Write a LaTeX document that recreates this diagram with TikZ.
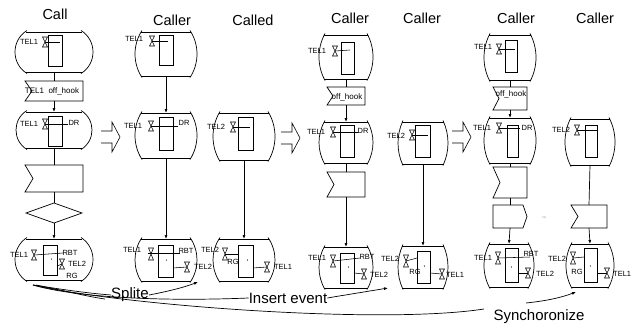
\documentclass[tikz,border=0pt]{standalone}
\usepackage{fontspec}
\setmainfont{Liberation Sans}
\newfontfamily\djv{DejaVu Sans}
\usetikzlibrary{arrows.meta}
\tikzset{
 ln/.style={draw=black, line width=0.7pt},
 thin ln/.style={draw=black, line width=0.55pt},
 arr/.style={ln, -{Latex[length=4pt,width=3pt]}},
 ttl/.style={font=\fontsize{14.5}{16}\selectfont, inner sep=0},
 btm/.style={font=\fontsize{15}{17}\selectfont, inner sep=0},
 lbl/.style={font=\fontsize{7.5}{8}\selectfont, inner sep=0},
 sig/.style={font=\fontsize{8}{9}\selectfont, inner sep=0},
 hollow/.style={ln, line width=0.6pt},
}
% state symbol: name, cx, top, bottom, half width, bulge (circular side arcs)
\newcommand{\sdlstate}[6]{%
 \pgfmathsetmacro\sdlhh{(#4-#3)/2+1.5}%
 \pgfmathsetmacro\sdlR{(\sdlhh*\sdlhh+#6*#6)/(2*#6)}%
 \pgfmathsetmacro\sdlal{asin(\sdlhh/\sdlR)}%
 \pgfmathsetmacro\sdlk{4/3*tan(\sdlal/2)*\sdlR}%
 \pgfmathsetmacro\sdlkx{\sdlk*sin(\sdlal)}%
 \pgfmathsetmacro\sdlky{\sdlk*cos(\sdlal)}%
 \coordinate (#1-t) at (#2,#3);
 \coordinate (#1-b) at (#2,#4);
 \draw[ln] ({#2-#5-1},#3) -- ({#2+#5+1},#3);
 \draw[ln] ({#2-#5-1},#4) -- ({#2+#5+1},#4);
 \draw[ln] ({#2-#5},{#3-1.5}) .. controls ({#2-#5-\sdlkx},{#3-1.5+\sdlky}) and ({#2-#5-\sdlkx},{#4+1.5-\sdlky}) .. ({#2-#5},{#4+1.5});
 \draw[ln] ({#2+#5},{#3-1.5}) .. controls ({#2+#5+\sdlkx},{#3-1.5+\sdlky}) and ({#2+#5+\sdlkx},{#4+1.5-\sdlky}) .. ({#2+#5},{#4+1.5});
}
% hourglass: name, x, y, half height
\newcommand{\sdlhg}[4]{%
 \coordinate (#1) at (#2,#3);
 \draw[thin ln] ({#2-2.5},{#3-#4}) -- ({#2+2.5},{#3-#4}) -- ({#2-2.5},{#3+#4}) -- ({#2+2.5},{#3+#4}) -- cycle;
}
% input symbol: name, cx, half width, top, bottom, notch
\newcommand{\sdlin}[6]{%
 \coordinate (#1-t) at (#2,#4);
 \coordinate (#1-b) at (#2,#5);
 \draw[ln] ({#2-#3},#4) -- ({#2+#3},#4) -- ({#2+#3},#5) -- ({#2-#3},#5) -- ({#2-#3+#6},{(#4+#5)/2}) -- cycle;
}
% output symbol: name, cx, half width, top, bottom, point
\newcommand{\sdlout}[6]{%
 \coordinate (#1-t) at (#2,#4);
 \coordinate (#1-b) at (#2,#5);
 \draw[ln] ({#2-#3},#4) -- ({#2+#3-#6},#4) -- ({#2+#3},{(#4+#5)/2}) -- ({#2+#3-#6},#5) -- ({#2-#3},#5) -- cycle;
}
% hollow arrow: x0, x1, x2, cy
\newcommand{\sdlhollow}[4]{%
 \draw[hollow] (#1,{#4-6}) -- (#2,{#4-6}) -- (#2,{#4-15}) -- (#3,#4) -- (#2,{#4+15}) -- (#2,{#4+6}) -- (#1,{#4+6});
}
\begin{document}
\begin{tikzpicture}[x=1pt,y=-1pt]
\useasboundingbox (0,0) rectangle (631,327);

% ---------------- titles
\node[ttl] (t1) at (55,14) {Call};
\node[ttl] (t2) at (172,20) {Caller};
\node[ttl] (t3) at (253,20) {Called};
\node[ttl] (t4) at (350,18) {Caller};
\node[ttl] (t5) at (422,18) {Caller};
\node[ttl] (t6) at (516,18) {Caller};
\node[ttl] (t7) at (595,18) {Caller};

% ---------------- column 1
\sdlstate{a1}{54}{32}{72}{27}{12}
\draw[ln] (48,35) rectangle (62,66);
\sdlhg{a1h}{45}{42}{5}
\draw[thin ln] (a1h) -- (60,42);
\node[lbl] (a1l) at (29,42) {TEL1};

\sdlin{a2}{54}{29}{81}{101}{7}
\node[sig] (a2l) at (52,91) {TEL1\ \ off\_hook};

\sdlstate{a3}{54}{112}{148}{27}{11}
\draw[ln] (48,116) rectangle (62,146);
\sdlhg{a3h}{45}{124}{5}
\draw[thin ln] (a3h) -- (68,124);
\node[lbl] (a3l) at (29,124) {TEL1};
\node[lbl] (a3r) at (74,123) {DR};

\sdlin{a4}{54}{29}{165}{192}{8}

\coordinate (a5-t) at (54,203);
\coordinate (a5-b) at (54,223);
\draw[ln] (54,203) -- (82,213) -- (54,223) -- (26,213) -- cycle;

\sdlstate{a6}{54}{239}{280}{27}{12}
\draw[ln] (43,245) rectangle (57,275);
\sdlhg{a6h}{34}{255}{5}
\draw[thin ln] (a6h) -- (63,253);
\sdlhg{a6k}{62}{264}{5}
\draw[thin ln] (57,266) -- (a6k);
\draw[thin ln] (51,258.5) -- (51.8,259.5);
\node[lbl] (a6l) at (19,255) {TEL1};
\node[lbl] (a6r) at (70,253) {RBT};
\node[lbl] (a6s) at (77,264) {TEL2};
\node[lbl] (a6g) at (72,276) {RG};

\draw[ln] (a1-b) -- (a2-t);
\draw[arr] (a2-b) -- (a3-t);
\draw[ln] (a3-b) -- (a4-t);
\draw[ln] (a4-b) -- (a5-t);
\draw[arr] (a5-b) -- (a6-t);

% ---------------- column 2
\sdlstate{b1}{166}{32}{76}{24}{7}
\draw[ln] (159,35) rectangle (173,65);
\sdlhg{b1h}{152}{41}{5}
\draw[thin ln] (b1h) -- (168,41);
\node[lbl] (b1l) at (134,39) {TEL1};

\sdlstate{b2}{166}{113}{158}{24}{7}
\draw[ln] (159,117) rectangle (173,150);
\sdlhg{b2h}{151}{126}{5}
\draw[thin ln] (b2h) -- (178,126);
\node[lbl] (b2l) at (133,126) {TEL1};
\node[lbl] (b2r) at (184,123) {DR};

\sdlstate{b3}{166}{239}{281}{24}{7}
\draw[ln] (158,245) rectangle (173,277);
\sdlhg{b3h}{151}{254}{6}
\draw[thin ln] (148,253) -- (180,253);
\sdlhg{b3k}{187}{267}{5}
\draw[thin ln] (173,268) -- (b3k);
\draw[thin ln] (166,259.5) -- (166.8,260.5);
\node[lbl] (b3l) at (132,250) {TEL1};
\node[lbl] (b3r) at (186,251) {RBT};
\node[lbl] (b3s) at (203,267) {TEL2};

\draw[arr] (b1-b) -- (b2-t);
\draw[arr] (b2-b) -- (b3-t);

% ---------------- column 3
\sdlstate{c1}{244}{113}{160}{24}{7}
\draw[ln] (238,117) rectangle (253,150);
\sdlhg{c1h}{233}{127}{5}
\draw[thin ln] (c1h) -- (250,127);
\node[lbl] (c1l) at (216,127) {TEL2};

\sdlstate{c2}{244}{239}{281}{24}{7}
\draw[ln] (238,245) rectangle (253,277);
\sdlhg{c2h}{225}{254}{6}
\draw[thin ln] (c2h) -- (238,254);
\sdlhg{c2k}{267}{267}{5}
\draw[thin ln] (253,268) -- (c2k);
\draw[thin ln] (247,259.5) -- (247.8,260.5);
\node[lbl] (c2l) at (210,250) {TEL2};
\node[lbl] (c2g) at (233,262) {RG};
\node[lbl] (c2s) at (283,267) {TEL1};

\draw[arr] (c1-b) -- (c2-t);

% ---------------- column 4
\sdlstate{d1}{346}{35}{79}{21}{6}
\draw[ln] (341,42) rectangle (354,74);
\sdlhg{d1h}{335}{51}{5}
\draw[thin ln] (d1h) -- (350,50);
\node[lbl] (d1l) at (317,51) {TEL1};

\sdlin{d2}{346}{19}{87}{105}{6}
\node[sig] (d2l) at (347,97) {off\_hook};

\sdlstate{d3}{346}{122}{163}{21}{6}
\draw[ln] (340,125) rectangle (354,157);
\sdlhg{d3h}{333}{132}{5}
\draw[thin ln] (d3h) -- (358,132);
\node[lbl] (d3l) at (316,132) {TEL1};
\node[lbl] (d3r) at (363,131) {DR};

\sdlin{d4}{346}{19}{172}{197}{7}

\sdlstate{d5}{346}{247}{288}{21}{6}
\draw[ln] (340,253) rectangle (354,283);
\sdlhg{d5h}{333}{261}{6}
\draw[thin ln] (d5h) -- (360,258);
\sdlhg{d5k}{364}{274}{5}
\draw[thin ln] (354,273) -- (d5k);
\draw[thin ln] (348,266.5) -- (348.8,267.5);
\node[lbl] (d5l) at (317,258) {TEL1};
\node[lbl] (d5r) at (367,257) {RBT};
\node[lbl] (d5s) at (379,275) {TEL2};

\draw[ln] (d1-b) -- (d2-t);
\draw[arr] (d2-b) -- (d3-t);
\draw[ln] (d3-b) -- (d4-t);
\draw[arr] (d4-b) -- (d5-t);

% ---------------- column 5
\sdlstate{e1}{423}{122}{164}{20}{5}
\draw[ln] (415,125) rectangle (430,157);
\sdlhg{e1h}{412}{135}{5}
\draw[thin ln] (e1h) -- (428,135);
\node[lbl] (e1l) at (396,136) {TEL2};

\sdlstate{e2}{423}{246}{288}{20}{5}
\draw[ln] (417,251) rectangle (430,283);
\sdlhg{e2h}{406}{261}{6}
\draw[thin ln] (e2h) -- (417,258);
\sdlhg{e2k}{442}{274}{5}
\draw[thin ln] (430,273) -- (e2k);
\draw[thin ln] (424,265.5) -- (424.8,266.5);
\node[lbl] (e2l) at (390,259) {TEL2};
\node[lbl] (e2g) at (415,272) {RG};
\node[lbl] (e2s) at (455,275) {TEL1};

\draw[arr] (e1-b) -- (e2-t);

% ---------------- column 6
\sdlstate{f1}{510}{35}{80}{20}{6}
\draw[ln] (505,40) rectangle (517,72);
\sdlhg{f1h}{499}{49}{5}
\draw[thin ln] (f1h) -- (515,49);
\node[lbl] (f1l) at (483,47) {TEL1};

\sdlin{f2}{510}{17}{87}{110}{6}
\node[sig] (f2l) at (511,94) {off\_hook};

\sdlstate{f3}{510}{118}{163}{20}{6}
\draw[ln] (507,125) rectangle (518,157);
\sdlhg{f3h}{499}{128}{5}
\draw[thin ln] (f3h) -- (520,128);
\node[lbl] (f3l) at (482,128) {TEL1};
\node[lbl] (f3r) at (527,128) {DR};

\sdlin{f4}{510}{17}{167}{198}{7}
\sdlout{f5}{510}{17}{205}{228}{4}

\sdlstate{f6}{509}{244}{287}{19}{6}
\draw[ln] (505,248) rectangle (518,282);
\sdlhg{f6h}{498}{258}{6}
\draw[thin ln] (f6h) -- (530,257);
\sdlhg{f6k}{528}{273}{5}
\draw[thin ln] (518,273) -- (f6k);
\draw[thin ln] (511,266.5) -- (511.8,267.5);
\node[lbl] (f6l) at (483,258) {TEL1};
\node[lbl] (f6r) at (531,254) {RBT};
\node[lbl] (f6s) at (545,274) {TEL2};

\draw[ln] (f1-b) -- (f2-t);
\draw[arr] (f2-b) -- (f3-t);
\draw[ln] (f3-b) -- (f4-t);
\draw[ln] (f4-b) -- (f5-t);
\draw[arr] (f5-b) -- (f6-t);

\node[font=\djv\fontsize{5.5}{6}\selectfont, text=gray!60, inner sep=0] (g1) at (544,218) {⇒};

% ---------------- column 7
\sdlstate{h1}{590}{119}{165}{19}{6}
\draw[ln] (585,125) rectangle (597,157);
\sdlhg{h1h}{577}{130}{5}
\draw[thin ln] (h1h) -- (598,130);
\node[lbl] (h1l) at (561,130) {TEL2};

\sdlin{h2}{589}{18}{205}{228}{7}

\sdlstate{h3}{590}{244}{287}{18}{6}
\draw[ln] (584,248) rectangle (597,282);
\sdlhg{h3h}{573}{258}{6}
\draw[thin ln] (h3h) -- (584,257);
\sdlhg{h3k}{607}{273}{5}
\draw[thin ln] (597,273) -- (h3k);
\draw[thin ln] (590,265.5) -- (590.8,266.5);
\node[lbl] (h3l) at (557,259) {TEL2};
\node[lbl] (h3g) at (577,272) {RG};
\node[lbl, anchor=west] (h3s) at (613,274) {TEL1};

\draw[ln] (h1-b) -- (h2-t);
\draw[arr] (h2-b) -- (h3-t);

% ---------------- hollow arrows
\sdlhollow{101}{112}{120}{137}
\sdlhollow{281}{292}{300}{138}
\sdlhollow{452}{463}{471}{137}

% ---------------- bottom annotations
\coordinate (src) at (33,285);
\node[btm] (sp) at (130,295) {Splite};
\node[btm] (ie) at (288,298) {Insert event};
\node[btm] (sy) at (539,317) {Synchoronize};
\coordinate (spt) at (198,282);
\coordinate (iet) at (388,288);
\coordinate (syt) at (576,292);
\coordinate (sye) at (484,309);

\draw[ln] (src) .. controls (60,289) and (85,293) .. (sp.west);
\draw[ln] (src) .. controls (70,296) and (150,302) .. (ie.west);
\draw[ln] (src) .. controls (120,305) and (380,325) .. (sye);
\draw[ln] (36,285) .. controls (70,292) and (90,297) .. (105,299);
\draw[arr] (sp.east) .. controls (170,291) and (185,287) .. (spt);
\draw[arr] (ie.east) .. controls (345,295) and (370,291) .. (iet);
\draw[arr] (526,303) .. controls (545,301) and (560,298) .. (syt);
\end{tikzpicture}
\end{document}
